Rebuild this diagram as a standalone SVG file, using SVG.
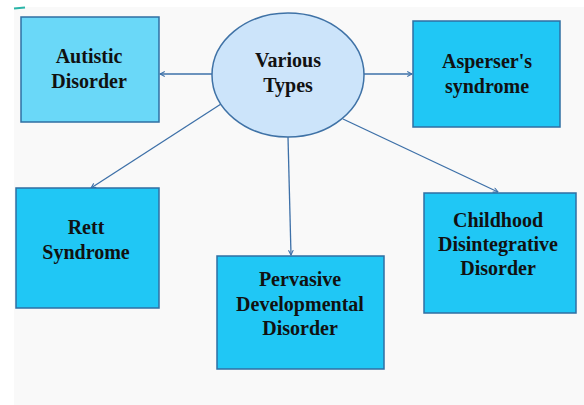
<svg xmlns="http://www.w3.org/2000/svg" width="584" height="405" viewBox="0 0 584 405">
<defs>
<style>
.box{fill:#20c7f5;stroke:#2f6fa3;stroke-width:1.5}
.lt{fill:#6ad8f8}
.t{font-family:'Liberation Serif','Times New Roman',serif;font-weight:bold;font-size:20px;fill:#111;text-anchor:middle}
.c{stroke:#3d70a8;stroke-width:1.3;fill:none;marker-end:url(#ah)}
</style>
<marker id="ah" viewBox="0 0 10 10" refX="9" refY="5" markerWidth="6" markerHeight="6" orient="auto" markerUnits="userSpaceOnUse">
<path d="M1,1 L9,5 L1,9" fill="none" stroke="#3d70a8" stroke-width="1.8"/>
</marker>
</defs>
<rect width="584" height="405" fill="#ffffff"/>
<rect x="14" y="7" width="570" height="398" fill="#f9f9f9"/>
<path d="M14,8.5 L25,7.5" stroke="#2ab5a8" stroke-width="2"/>
<g id="connectors">
<line class="c" x1="212" y1="74" x2="160" y2="74"/>
<line class="c" x1="364" y1="74" x2="412" y2="74"/>
<line class="c" x1="221" y1="104" x2="91" y2="188"/>
<line class="c" x1="288" y1="137" x2="291" y2="255"/>
<line class="c" x1="343" y1="119" x2="498" y2="192"/>
</g>
<g id="various">
<ellipse cx="288" cy="75" rx="76" ry="62" fill="#cce4fa" stroke="#3f72a6" stroke-width="1.5"/>
<text class="t" x="288" y="67">Various</text>
<text class="t" x="288" y="92">Types</text>
</g>
<g id="autistic">
<rect class="box lt" x="21" y="17" width="138" height="105"/>
<text class="t" x="89" y="63">Autistic</text>
<text class="t" x="89" y="88">Disorder</text>
</g>
<g id="asperser">
<rect class="box" x="413" y="21" width="147" height="106"/>
<text class="t" x="487" y="68">Asperser's</text>
<text class="t" x="487" y="93">syndrome</text>
</g>
<g id="rett">
<rect class="box" x="16" y="188" width="143" height="120"/>
<text class="t" x="86" y="234">Rett</text>
<text class="t" x="86" y="259">Syndrome</text>
</g>
<g id="pdd">
<rect class="box" x="217" y="256" width="167" height="113"/>
<text class="t" x="300" y="286">Pervasive</text>
<text class="t" x="300" y="311">Developmental</text>
<text class="t" x="300" y="335">Disorder</text>
</g>
<g id="childhood">
<rect class="box" x="424" y="193" width="152" height="120"/>
<text class="t" x="498" y="227">Childhood</text>
<text class="t" x="498" y="251">Disintegrative</text>
<text class="t" x="498" y="275">Disorder</text>
</g>
</svg>
